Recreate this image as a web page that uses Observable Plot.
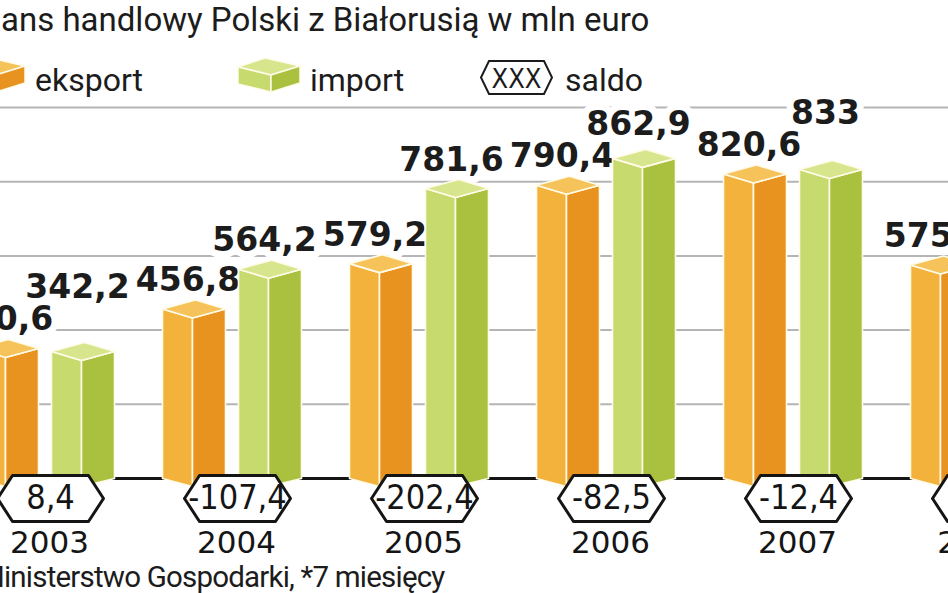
<!DOCTYPE html>
<html><head><meta charset="utf-8">
<script src="https://cdn.jsdelivr.net/npm/d3@7"></script>
<script src="https://cdn.jsdelivr.net/npm/@observablehq/plot@0.6"></script>
<style>
html,body{margin:0;padding:0;background:#fff;width:948px;height:593px;overflow:hidden;position:relative}
.t{position:absolute;white-space:nowrap;color:#1c1c1c;line-height:1}
#title{top:0;left:0;font:33px Roboto}
.leg{font:32px Roboto;top:61px}
#caption{top:560px;left:0;font:29.5px Roboto;letter-spacing:-0.8px}
#chart{position:absolute;top:90px;left:0}
svg.icon{position:absolute;overflow:visible}
</style></head><body>
<div id="title" class="t"><span id="titlePre">Bil</span>ans handlowy Polski z Białorusią w mln euro</div>
<svg class="icon" style="left:-37px;top:58px" width="62" height="34">
 <polygon points="0,9 27,0 62,8 33,17" fill="#f6c35b" stroke="#fffbe8" stroke-width="1.5"/>
 <polygon points="0,9 33,17 33,34 0,26" fill="#f2b23c" stroke="#fffbe8" stroke-width="1.5"/>
 <polygon points="33,17 62,8 62,25 33,34" fill="#e8931f" stroke="#fffbe8" stroke-width="1.5"/>
</svg>
<div class="t leg" style="left:35px">eksport</div>
<svg class="icon" style="left:238px;top:58px" width="62" height="34">
 <polygon points="0,9 27,0 62,8 33,17" fill="#d7e68d" stroke="#fffbe8" stroke-width="1.5"/>
 <polygon points="0,9 33,17 33,34 0,26" fill="#c6da6d" stroke="#fffbe8" stroke-width="1.5"/>
 <polygon points="33,17 62,8 62,25 33,34" fill="#aac03f" stroke="#fffbe8" stroke-width="1.5"/>
</svg>
<div class="t leg" style="left:310px">import</div>
<svg class="icon" style="left:480px;top:60px" width="73" height="35">
 <polygon points="1,17.5 9,1 64,1 72,17.5 64,34 9,34" fill="#fff" stroke="#1c1c1c" stroke-width="2"/>
 <text x="36.5" y="27.5" text-anchor="middle" font-family="DejaVu Sans Condensed, Liberation Sans Narrow, sans-serif" font-size="27" fill="#1c1c1c">XXX</text>
</svg>
<div class="t leg" style="left:565px">saldo</div>
<div id="chart"></div>
<div id="caption" class="t"><span id="capPre">Źródło: M</span>inisterstwo Gospodarki, *7 miesięcy</div>
<script>
// ---- data ----
const years   = ["2003", "2004", "2005", "2006", "2007", "2008*"];
const eksport = [350.6, 456.8, 579.2, 790.4, 820.6, 575.5];
const importV = [342.2, 564.2, 781.6, 862.9, 833, null];
const saldo   = [8.4, -107.4, -202.4, -82.5, -12.4, null];
const gridValues = [200, 400, 600, 800, 1000];

// ---- style ----
const colors = {
  eksport: {top: "#f6c35b", left: "#f2b23c", right: "#e8931f"},
  import:  {top: "#d7e68d", left: "#c6da6d", right: "#aac03f"}
};
const edge = "#fffbe8";

// crop the title / source line on the left like the reference
function cropLeft(elId, preId, keep) {
  const el = document.getElementById(elId), pre = document.getElementById(preId);
  const r = pre.getBoundingClientRect().right;
  el.style.left = (keep - r) + "px";
}
cropLeft("title", "titlePre", 1);
cropLeft("caption", "capPre", 4);

const fmt = v => Number.isInteger(v) ? String(v) : v.toFixed(1).replace(".", ",");

// scales (same as the Plot scales below)
const W = 948, H = 470;
const xDomain = [0, 5], xRange = [45, 980];
const yDomain = [0, 1000], yRange = [388, 17];
const xPx = d3.scaleLinear(xDomain, xRange);
const yPx = d3.scaleLinear(yDomain, yRange);
const X = px => xPx.invert(px), Y = py => yPx.invert(py);

// bar polygons
const poly = [];
function addPoly(id, fill, pts) {
  pts.concat([pts[0]]).forEach(([px, py]) => poly.push({id, fill, x: X(px), y: Y(py)}));
}
const barW = 63, capDrop = 9, vDrop = 8;
years.forEach((yr, i) => {
  const c = xPx(i);
  [["eksport", eksport[i], c - 70], ["import", importV[i], c + 6]].forEach(([s, v, xL]) => {
    if (v == null) return;
    const xR = xL + barW, xM = xL + 30;
    const ys = yPx(v), y0 = yPx(0);
    const col = colors[s];
    addPoly(`${s}${i}L`, col.left, [[xL, ys], [xM, ys + capDrop], [xM, y0 + vDrop], [xL, y0]]);
    addPoly(`${s}${i}R`, col.right, [[xM, ys + capDrop], [xR, ys], [xR, y0], [xM, y0 + vDrop]]);
    addPoly(`${s}${i}T`, col.top, [[xL, ys], [xL + xR - xM, ys - capDrop], [xR, ys], [xM, ys + capDrop]]);
  });
});

// hexagons for saldo
const hex = [];
years.forEach((yr, i) => {
  const cx = xPx(i) + 5, cy = yPx(0) + 20;
  [[-53, 0], [-38, -23], [38, -23], [53, 0], [38, 23], [-38, 23], [-53, 0]]
    .forEach(([dx, dy]) => hex.push({id: i, x: X(cx + dx), y: Y(cy + dy)}));
});
const saldoRows = years.map((yr, i) => ({x: i, v: saldo[i]})).filter(d => d.v != null);

// value labels (import label lifted above export label when they would collide)
const lift = 18, capH = 24, gap = 8;
const labels = [];
years.forEach((yr, i) => {
  const c = xPx(i);
  let eBase = null;
  if (eksport[i] != null) {
    eBase = yPx(eksport[i]) - lift;
    labels.push({x: X(c - 38.5), y: Y(eBase), text: fmt(eksport[i])});
  }
  if (importV[i] != null) {
    let b = yPx(importV[i]) - lift;
    if (eBase != null) b = Math.min(b, eBase - capH - gap);
    labels.push({x: X(c + 38), y: Y(b), text: fmt(importV[i])});
  }
});

const plot = Plot.plot({
  width: W, height: H, margin: 0,
  x: {type: "linear", domain: xDomain, range: xRange, axis: null},
  y: {type: "linear", domain: yDomain, range: yRange, axis: null},
  color: {type: "identity"},
  style: {background: "transparent", overflow: "hidden"},
  marks: [
    Plot.ruleY(gridValues, {stroke: "#b5b5b5", strokeWidth: 2}),
    Plot.ruleY([0], {stroke: "#151515", strokeWidth: 3}),
    Plot.text(labels, {x: "x", y: "y", text: "text", dx: -6, lineAnchor: "bottom",
      fontFamily: "DejaVu Sans", fontWeight: "bold", fontSize: 33, fill: "#1c1c1c",
      stroke: "white", strokeWidth: 14, strokeLinejoin: "round", paintOrder: "stroke"}),
    Plot.line(poly, {x: "x", y: "y", z: "id", fill: "fill", stroke: edge, strokeWidth: 1.6, strokeLinejoin: "round"}),
    Plot.line(hex, {x: "x", y: "y", z: "id", fill: "white", stroke: "#151515", strokeWidth: 3}),
    Plot.text(saldoRows, {x: "x", y: 0, text: d => fmt(d.v), dx: 5, dy: 20, lineAnchor: "middle",
      fontFamily: "DejaVu Sans Condensed, Liberation Sans Narrow, sans-serif", fontStretch: "condensed", fontSize: 34, fill: "#151515"}),
    Plot.text(years, {x: (d, i) => i, y: 0, text: d => d, dx: 4, dy: 74, lineAnchor: "bottom",
      fontFamily: "DejaVu Sans", fontSize: 31, fill: "#151515"})
  ]
});
document.getElementById("chart").appendChild(plot);
</script>
</body></html>
